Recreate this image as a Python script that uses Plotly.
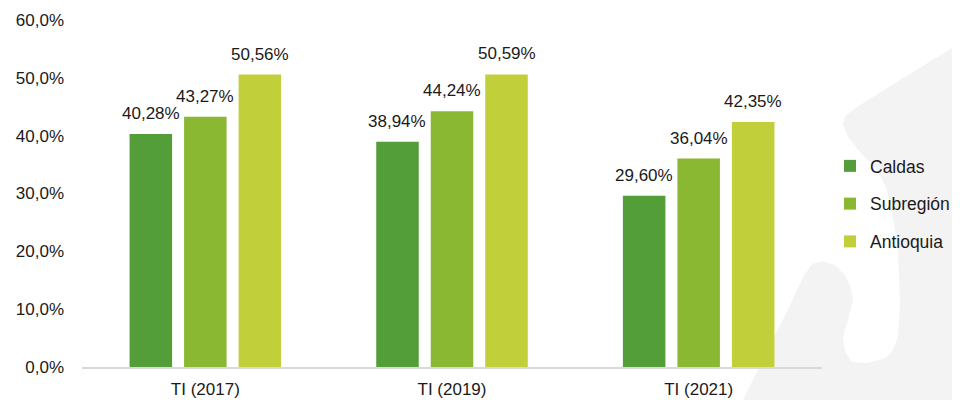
import plotly.graph_objects as go

categories = ["TI (2017)", "TI (2019)", "TI (2021)"]
series_names = ["Caldas", "Subregión", "Antioquia"]
caldas = [40.28, 38.94, 29.60]
subregion = [43.27, 44.24, 36.04]
antioquia = [50.56, 50.59, 42.35]
colors = ["#549e39", "#8ab833", "#c0cf3a"]
y_ticks = [0, 10, 20, 30, 40, 50, 60]
y_tick_labels = ["0,0%", "10,0%", "20,0%", "30,0%", "40,0%", "50,0%", "60,0%"]

FONT = "Liberation Sans, Arial, sans-serif"
FS = 17

# the page body has an 8px default margin: size the figure so it fills the 960x400 window
OFF = 8
W, H = 960 - OFF, 400 - OFF
# plot area in screen pixels
L, R, T, B = 82, 822, 20, 367
BARGAP, GROUPGAP = 0.337, 0.22

fig = go.Figure()
all_vals = [caldas, subregion, antioquia]
for i, (name, vals) in enumerate(zip(series_names, all_vals)):
    fig.add_trace(go.Bar(
        name=name, x=categories, y=vals,
        marker=dict(color=colors[i], line=dict(width=0)),
        legendgroup=name, hoverinfo="x+y+name",
    ))

# value labels, placed over each bar through the axis scales
slot = (R - L) / len(categories) * (1 - BARGAP) / len(series_names)
for i, vals in enumerate(all_vals):
    for cat, v in zip(categories, vals):
        fig.add_annotation(
            x=cat, y=v, xref="x", yref="y", text=f"{v:.2f}%".replace(".", ","),
            showarrow=False, yanchor="bottom", xanchor="center",
            xshift=(i - (len(series_names) - 1) / 2) * slot, yshift=9,
            font=dict(size=FS, family=FONT, color="#1a1a1a"),
        )

# decorative light-gray background silhouette (screen pixel coords -> paper)
pts = [(960, 43), (900, 80), (857, 107), (845, 116), (843, 125), (848, 137), (860, 152),
       (877, 170), (886, 187), (890, 203), (895, 228), (898, 253), (900, 303), (898, 337),
       (893, 350), (886, 358), (867, 363), (852, 362), (845, 352), (843, 337), (848, 320),
       (853, 300), (851, 288), (845, 275), (835, 265), (822, 261), (812, 264), (804, 275),
       (790, 305), (770, 345), (743, 400), (960, 400)]
def px2paper(p):
    return ((p[0] - L) / (R - L), (B - p[1]) / (B - T))
path = "M " + " L ".join(f"{x:.4f},{y:.4f}" for x, y in map(px2paper, pts)) + " Z"
fig.add_shape(type="path", path=path, xref="paper", yref="paper",
              fillcolor="#f3f3f3", line=dict(width=0), layer="below")

fig.update_layout(
    width=W, height=H,
    margin=dict(l=L - OFF, r=W - (R - OFF), t=T - OFF, b=H - (B - OFF), autoexpand=False),
    paper_bgcolor="white", plot_bgcolor="rgba(0,0,0,0)",
    separators=",.",
    barmode="group", bargap=BARGAP, bargroupgap=GROUPGAP,
    font=dict(family=FONT, size=FS, color="#1a1a1a"),
    showlegend=True,
    legend=dict(x=(830 - L) / (R - L), xanchor="left", y=(B - 204) / (B - T), yanchor="middle",
                xref="paper", yref="paper", bgcolor="rgba(0,0,0,0)",
                font=dict(size=17.5, family=FONT, color="#1a1a1a"),
                tracegroupgap=12, itemclick=False),
    xaxis=dict(showline=True, linecolor="#d9d9d9", linewidth=1.5, showgrid=False,
               ticks="", tickfont=dict(size=FS), automargin=False, ticklabelstandoff=6),
    yaxis=dict(range=[0, 60], tickvals=y_ticks, ticktext=y_tick_labels,
               showgrid=False, zeroline=False, showline=False, ticks="",
               ticklabelstandoff=17, tickfont=dict(size=FS), automargin=False),
)

fig.write_html("out.html")
